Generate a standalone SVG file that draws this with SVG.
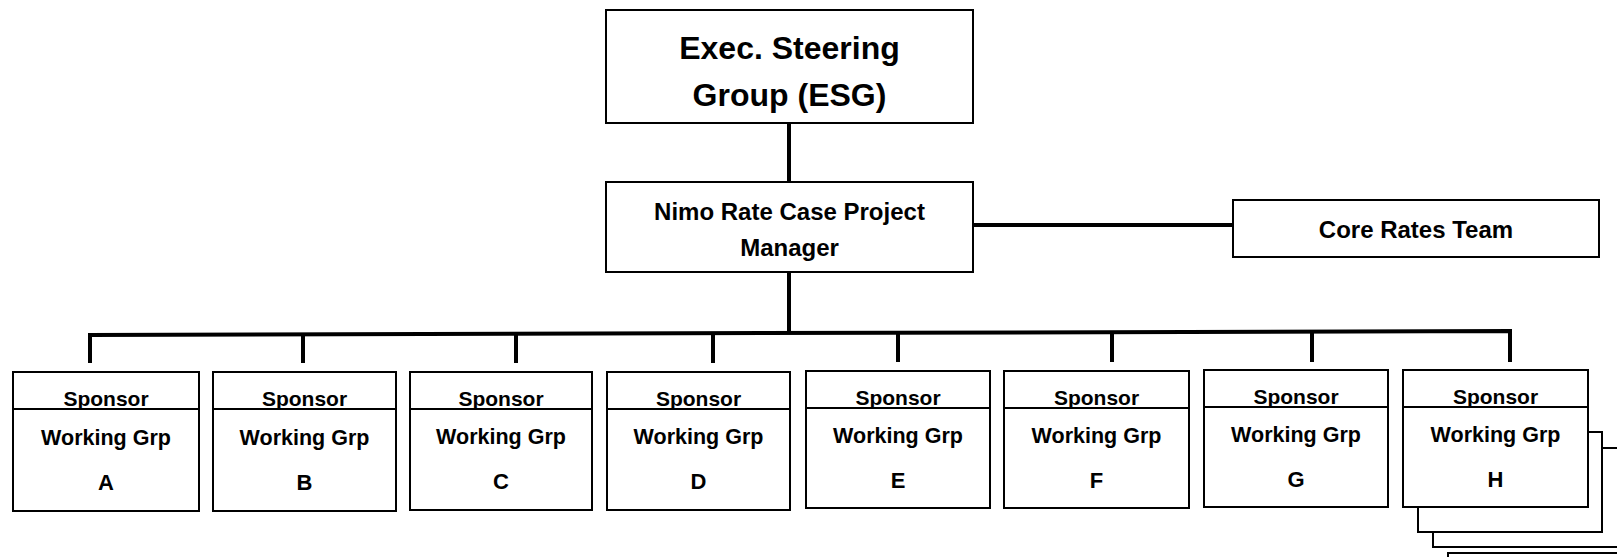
<svg xmlns="http://www.w3.org/2000/svg" width="1617" height="557" viewBox="0 0 1617 557">
<style>
.box{fill:#fff;stroke:#000;stroke-width:2}
.div{stroke:#000;stroke-width:2}
.con{fill:none;stroke:#000;stroke-width:4}
text{font-family:"Liberation Sans",Arial,sans-serif;font-weight:bold;fill:#000;text-anchor:middle}
.big{font-size:32px}
.mid{font-size:24px}
.sm{font-size:21px}
.wg{font-size:21.5px}
.let{font-size:22px}
</style>
<rect width="1617" height="557" fill="#fff"/>
<g id="connectors">
<line class="con" x1="789" y1="123" x2="789" y2="182"/>
<line class="con" x1="973" y1="225" x2="1233" y2="225"/>
<line class="con" x1="789" y1="272" x2="789" y2="334"/>
<path class="con" d="M90 363 V335 L1510 331 V362"/>
<line class="con" x1="303" y1="334.4" x2="303" y2="363"/>
<line class="con" x1="516" y1="333.8" x2="516" y2="363"/>
<line class="con" x1="713" y1="333.3" x2="713" y2="363"/>
<line class="con" x1="898" y1="332.7" x2="898" y2="362"/>
<line class="con" x1="1112" y1="332.1" x2="1112" y2="362"/>
<line class="con" x1="1312" y1="331.6" x2="1312" y2="362"/>
</g>
<g id="esg">
<rect class="box" x="606" y="10" width="367" height="113"/>
<text class="big" x="789.5" y="59">Exec. Steering</text>
<text class="big" x="789.5" y="106">Group (ESG)</text>
</g>
<g id="pm">
<rect class="box" x="606" y="182" width="367" height="90"/>
<text class="mid" x="789.5" y="220">Nimo Rate Case Project</text>
<text class="mid" x="789.5" y="256">Manager</text>
</g>
<g id="core">
<rect class="box" x="1233" y="200" width="366" height="57"/>
<text class="mid" x="1416" y="238">Core Rates Team</text>
</g>
<g id="wgA">
<rect class="box" x="13" y="372" width="186" height="139"/>
<line class="div" x1="13" y1="409" x2="199" y2="409"/>
<text class="sm" x="106" y="406">Sponsor</text>
<text class="wg" x="106" y="445">Working Grp</text>
<text class="let" x="106" y="490">A</text>
</g>
<g id="wgB">
<rect class="box" x="213" y="372" width="183" height="139"/>
<line class="div" x1="213" y1="409" x2="396" y2="409"/>
<text class="sm" x="304.5" y="406">Sponsor</text>
<text class="wg" x="304.5" y="445">Working Grp</text>
<text class="let" x="304.5" y="490">B</text>
</g>
<g id="wgC">
<rect class="box" x="410" y="372" width="182" height="138"/>
<line class="div" x1="410" y1="409" x2="592" y2="409"/>
<text class="sm" x="501" y="406">Sponsor</text>
<text class="wg" x="501" y="444">Working Grp</text>
<text class="let" x="501" y="489">C</text>
</g>
<g id="wgD">
<rect class="box" x="607" y="372" width="183" height="138"/>
<line class="div" x1="607" y1="409" x2="790" y2="409"/>
<text class="sm" x="698.5" y="406">Sponsor</text>
<text class="wg" x="698.5" y="444">Working Grp</text>
<text class="let" x="698.5" y="489">D</text>
</g>
<g id="wgE">
<rect class="box" x="806" y="371" width="184" height="137"/>
<line class="div" x1="806" y1="408" x2="990" y2="408"/>
<text class="sm" x="898" y="405">Sponsor</text>
<text class="wg" x="898" y="443">Working Grp</text>
<text class="let" x="898" y="488">E</text>
</g>
<g id="wgF">
<rect class="box" x="1004" y="371" width="185" height="137"/>
<line class="div" x1="1004" y1="408" x2="1189" y2="408"/>
<text class="sm" x="1096.5" y="405">Sponsor</text>
<text class="wg" x="1096.5" y="443">Working Grp</text>
<text class="let" x="1096.5" y="488">F</text>
</g>
<g id="wgG">
<rect class="box" x="1204" y="370" width="184" height="137"/>
<line class="div" x1="1204" y1="407" x2="1388" y2="407"/>
<text class="sm" x="1296" y="404">Sponsor</text>
<text class="wg" x="1296" y="442">Working Grp</text>
<text class="let" x="1296" y="487">G</text>
</g>
<g id="wgH">
<rect class="box" x="1448" y="553" width="200" height="60"/>
<rect class="box" x="1433" y="448" width="200" height="99"/>
<rect class="box" x="1418" y="432" width="184" height="100"/>
<rect class="box" x="1403" y="370" width="185" height="137"/>
<line class="div" x1="1403" y1="407" x2="1588" y2="407"/>
<text class="sm" x="1495.5" y="404">Sponsor</text>
<text class="wg" x="1495.5" y="442">Working Grp</text>
<text class="let" x="1495.5" y="487">H</text>
</g>
</svg>
